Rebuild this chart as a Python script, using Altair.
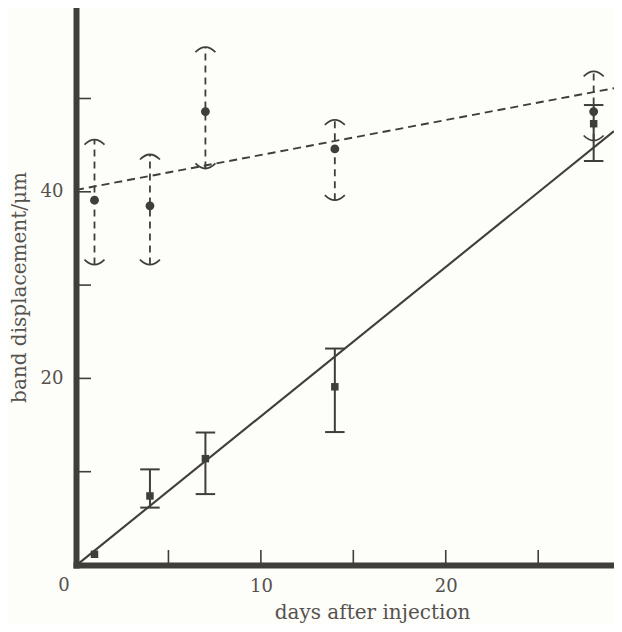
import altair as alt
import pandas as pd

# ---- data ----
days = [1, 4, 7, 14, 28]
circle_mean = [39.1, 38.5, 48.6, 44.6, 48.6]
circle_hi = [45.6, 44.0, 55.5, 47.7, 52.9]
circle_lo = [32.2, 32.2, 42.5, 39.1, 45.5]

square_days = [1, 4, 7, 14, 28]
square_mean = [1.15, 7.4, 11.4, 19.1, 47.3]
bar_days = [4, 7, 14, 28]
square_hi = [10.25, 14.2, 23.2, 49.3]
square_lo = [6.15, 7.6, 14.25, 43.3]

fit_solid_x = [0.1, 29.1]
fit_solid_y = [0.1, 46.5]
fit_dashed_x = [0.0, 29.1]
fit_dashed_y = [40.2, 51.1]

x_ticks = [5, 10, 15, 20, 25]
y_ticks = [10, 20, 30, 40, 50]
x_labels = [10, 20]
y_labels = [20, 40]
origin_label = ["0"]

# ---- styling ----
INK = "#403e3b"
TEXT = "#55524e"
BG = "#fdfdfa"
FONT = "DejaVu Serif"
W, H = 538, 557

circ = pd.DataFrame({"day": days, "val": circle_mean, "lo": circle_lo, "hi": circle_hi})
sq = pd.DataFrame({"day": square_days, "val": square_mean})
sqbar = pd.DataFrame({"day": bar_days, "lo": square_lo, "hi": square_hi})
fit_s = pd.DataFrame({"day": fit_solid_x, "val": fit_solid_y})
fit_d = pd.DataFrame({"day": fit_dashed_x, "val": fit_dashed_y})
xt = pd.DataFrame({"day": x_ticks})
yt = pd.DataFrame({"val": y_ticks})
org = pd.DataFrame({"day": [0], "val": [0], "label": origin_label})

xs = alt.Scale(domain=[0, 29.1], nice=False, zero=False)
ys = alt.Scale(domain=[0, 59.7], nice=False, zero=False)

xaxis = alt.Axis(
    values=x_labels, ticks=False, grid=False,
    domainWidth=6, domainColor=INK, domainCap="square",
    labelFont=FONT, labelFontSize=18, labelColor=TEXT,
    labelBaseline="alphabetic", labelPadding=26,
    title="days after injection", titleFont=FONT, titleFontSize=20,
    titleFontWeight="normal", titleColor=TEXT,
    titleX=296, titleY=53, titleBaseline="alphabetic", titleAlign="center",
)
yaxis = alt.Axis(
    values=y_labels, ticks=False, grid=False,
    domainWidth=6, domainColor=INK, domainCap="square",
    labelFont=FONT, labelFontSize=18, labelColor=TEXT, labelPadding=13,
    title="band displacement/μm", titleFont=FONT, titleFontSize=20,
    titleFontWeight="normal", titleColor=TEXT,
    titleAngle=270, titleX=-51, titleY=279,
    titleBaseline="alphabetic", titleAlign="center",
)

X = lambda f="day": alt.X(f"{f}:Q", scale=xs, axis=xaxis)
Y = lambda f="val": alt.Y(f"{f}:Q", scale=ys, axis=yaxis)

TOP_ARC = "M -1 0.5 Q 0 -0.5 1 0.5"
BOT_ARC = "M -1 -0.5 Q 0 0.5 1 -0.5"
FLAT = "M -1 0 L 1 0"

# fit lines
line_solid = alt.Chart(fit_s).mark_line(color=INK, strokeWidth=2.1, clip=True).encode(x=X(), y=Y())
line_dashed = alt.Chart(fit_d).mark_line(color=INK, strokeWidth=1.9, strokeDash=[8, 5], clip=True).encode(x=X(), y=Y())

# dashed error bars with arc caps
c_bar = alt.Chart(circ).mark_rule(color=INK, strokeWidth=1.8, strokeDash=[7, 5]).encode(
    x=X(), y=Y("lo"), y2="hi:Q")
c_top = alt.Chart(circ).mark_point(shape=TOP_ARC, filled=False, size=400, color=INK,
                                   strokeWidth=1.7, opacity=1).encode(x=X(), y=Y("hi"))
c_bot = alt.Chart(circ).mark_point(shape=BOT_ARC, filled=False, size=400, color=INK,
                                   strokeWidth=1.7, opacity=1).encode(x=X(), y=Y("lo"))
c_pts = alt.Chart(circ).mark_point(shape="circle", filled=True, size=78, color=INK,
                                   opacity=1).encode(x=X(), y=Y())

# solid error bars with flat caps
s_bar = alt.Chart(sqbar).mark_rule(color=INK, strokeWidth=2).encode(x=X(), y=Y("lo"), y2="hi:Q")
s_top = alt.Chart(sqbar).mark_point(shape=FLAT, filled=False, size=380, color=INK,
                                    strokeWidth=2, opacity=1).encode(x=X(), y=Y("hi"))
s_bot = alt.Chart(sqbar).mark_point(shape=FLAT, filled=False, size=380, color=INK,
                                    strokeWidth=2, opacity=1).encode(x=X(), y=Y("lo"))
s_pts = alt.Chart(sq).mark_point(shape="square", filled=True, size=56, color=INK,
                                 opacity=1).encode(x=X(), y=Y())

# inward tick marks
x_tick_marks = alt.Chart(xt).mark_rule(color=INK, strokeWidth=1.6).encode(
    x=X(), y=alt.value(H), y2=alt.value(H - 15))
y_tick_marks = alt.Chart(yt).mark_rule(color=INK, strokeWidth=1.6).encode(
    y=Y(), x=alt.value(0), x2=alt.value(15))

# origin label "0"
zero_lbl = alt.Chart(org).mark_text(font=FONT, fontSize=18, color=TEXT, dx=-12, dy=26,
                                    baseline="alphabetic", align="center").encode(
    x=X(), y=Y(), text="label:N")

chart = alt.layer(
    line_dashed, line_solid, x_tick_marks, y_tick_marks,
    c_bar, c_top, c_bot, s_bar, s_top, s_bot, c_pts, s_pts, zero_lbl,
).properties(
    width=W, height=H,
    autosize=alt.AutoSizeParams(type="none"),
    padding={"left": 68, "top": 0, "right": 0, "bottom": 59},
    background=BG,
).configure_view(stroke=None)

chart.save("out.html", embed_options={"renderer": "svg", "actions": False})
